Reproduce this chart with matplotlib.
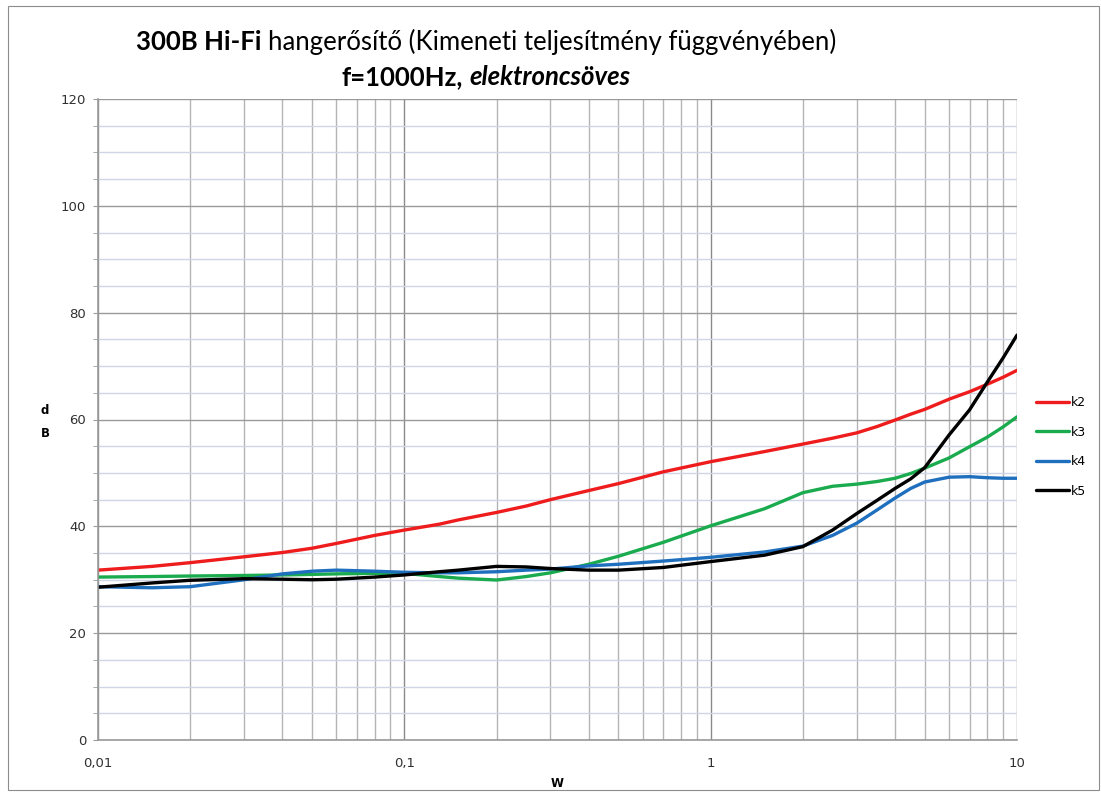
import matplotlib
matplotlib.use("Agg")
import matplotlib.pyplot as plt
from matplotlib.ticker import FixedLocator, MultipleLocator, FixedFormatter, NullFormatter
from matplotlib.offsetbox import TextArea, HPacker, VPacker, AnchoredOffsetbox
from matplotlib.patches import Rectangle

# ---- data ----
power_w = [0.01, 0.015, 0.02, 0.03, 0.04, 0.05, 0.06, 0.08, 0.1, 0.13, 0.15, 0.2, 0.25,
           0.3, 0.4, 0.5, 0.7, 1, 1.5, 2, 2.5, 3, 3.5, 4, 4.5, 5, 6, 7, 8, 9, 10]
k2 = [31.8, 32.5, 33.2, 34.3, 35.1, 35.9, 36.8, 38.3, 39.3, 40.4, 41.2, 42.6, 43.8,
      45.0, 46.7, 48.0, 50.2, 52.1, 54.0, 55.4, 56.5, 57.5, 58.7, 59.9, 61.0, 61.9,
      63.8, 65.2, 66.6, 67.9, 69.2]
k3 = [30.5, 30.6, 30.7, 30.8, 30.9, 31.0, 31.1, 31.2, 31.2, 30.6, 30.3, 29.95, 30.6,
      31.3, 32.9, 34.4, 37.0, 40.1, 43.3, 46.3, 47.5, 47.9, 48.4, 49.0, 49.9, 50.9,
      52.8, 54.9, 56.7, 58.6, 60.5]
k4 = [28.7, 28.5, 28.7, 30.0, 31.1, 31.6, 31.8, 31.6, 31.4, 31.3, 31.3, 31.5, 31.8,
      32.0, 32.6, 32.9, 33.5, 34.2, 35.2, 36.3, 38.3, 40.6, 43.1, 45.3, 47.1, 48.3,
      49.2, 49.3, 49.1, 49.0, 49.0]
k5 = [28.6, 29.4, 29.9, 30.2, 30.1, 30.0, 30.1, 30.5, 30.9, 31.5, 31.8, 32.5, 32.4,
      32.1, 31.8, 31.8, 32.3, 33.4, 34.6, 36.2, 39.3, 42.4, 44.9, 47.1, 48.9, 51.0,
      57.1, 61.8, 67.0, 71.5, 75.8]
series_names = ["k2", "k3", "k4", "k5"]
series_colors = ["#ee1c1c", "#1aab4f", "#1f6fbf", "#000000"]

x_ticks = [0.01, 0.1, 1, 10]
x_tick_labels = ["0,01", "0,1", "1", "10"]
y_ticks = [0, 20, 40, 60, 80, 100, 120]

# ---- figure ----
W, H = 1101, 796
fig = plt.figure(figsize=(W / 100, H / 100), dpi=100)
fig.patch.set_facecolor("white")
fig.add_artist(Rectangle((8 / W, 1 - 790 / H), (1099 - 8) / W, (790 - 6) / H,
                         transform=fig.transFigure, fill=False, edgecolor="#8c8c8c", lw=0.8))

ax = fig.add_axes([98 / W, 1 - 740 / H, (1017 - 98) / W, (740 - 99) / H])
ax.set_xscale("log")
ax.set_xlim(0.01, 10)
ax.set_ylim(0, 120)

minor_x = [m * 10.0 ** e for e in (-2, -1, 0) for m in range(2, 10)]
ax.xaxis.set_major_locator(FixedLocator(x_ticks))
ax.xaxis.set_major_formatter(FixedFormatter(x_tick_labels))
ax.xaxis.set_minor_locator(FixedLocator(minor_x))
ax.xaxis.set_minor_formatter(NullFormatter())
ax.yaxis.set_major_locator(FixedLocator(y_ticks))
ax.yaxis.set_minor_locator(MultipleLocator(5))

ax.grid(which="major", axis="y", color="#9a9a9a", lw=1.0)
ax.grid(which="minor", axis="y", color="#cfd6e6", lw=1.0)
ax.grid(which="major", axis="x", color="#8a8a8a", lw=1.0)
ax.grid(which="minor", axis="x", color="#b4b4b4", lw=1.0)
ax.set_axisbelow(True)

for s in ("top", "right"):
    ax.spines[s].set_visible(False)
for s in ("left", "bottom"):
    ax.spines[s].set_color("#9a9a9a")
    ax.spines[s].set_linewidth(1.2)

ax.tick_params(axis="x", which="both", length=0, pad=12, labelsize=9.5, labelcolor="#303030")
ax.tick_params(axis="y", which="both", direction="out", length=3.5, color="#9a9a9a",
               pad=5, labelsize=9.5, labelcolor="#303030")

for vals, name, col in zip([k2, k3, k4, k5], series_names, series_colors):
    ax.plot(power_w, vals, color=col, lw=2.4, label=name, solid_capstyle="round",
            solid_joinstyle="round")

ax.set_xlabel("W", fontsize=8.5, fontweight="bold", labelpad=5)
fig.text(45 / W, 1 - 422 / H, "d\nB", fontsize=8.5, fontweight="bold", ha="center",
         va="center", linespacing=2.0)

fig.legend(loc="upper left", bbox_to_anchor=(1036 / W, 1 - 396 / H), frameon=False,
           fontsize=9, handlelength=2.6, handletextpad=0.2, labelspacing=1.32,
           borderaxespad=0, borderpad=0)

# ---- title with mixed styles ----
fam = "Lato"
fs = 18.5
line1 = HPacker(children=[
    TextArea("300B Hi-Fi", textprops=dict(family=fam, fontsize=fs, fontweight="bold")),
    TextArea("hangerősítő (Kimeneti teljesítmény függvényében)",
             textprops=dict(family=fam, fontsize=fs)),
], pad=0, sep=5, align="baseline")
line2 = HPacker(children=[
    TextArea("f=1000Hz,", textprops=dict(family=fam, fontsize=fs, fontweight="bold")),
    TextArea("elektroncsöves", textprops=dict(family=fam, fontsize=fs, fontweight="bold",
                                              style="italic")),
], pad=0, sep=5, align="baseline")
title = VPacker(children=[line1, line2], align="center", pad=0, sep=7)
fig.add_artist(AnchoredOffsetbox(loc="upper center", child=title,
                                 bbox_to_anchor=(486 / W, 1 - 29 / H),
                                 bbox_transform=fig.transFigure, frameon=False,
                                 pad=0, borderpad=0))

fig.savefig("out.png", dpi=100, facecolor="white")
